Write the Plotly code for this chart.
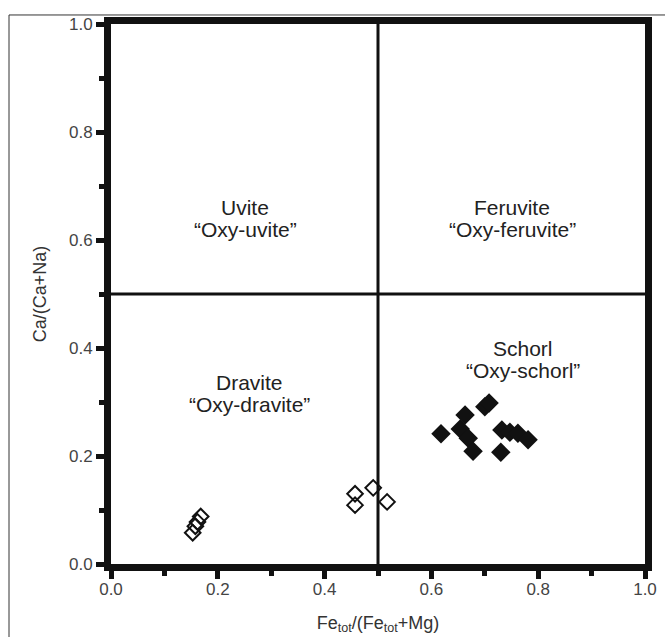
import plotly.graph_objects as go

# Tourmaline classification: Fe_tot/(Fe_tot+Mg) vs Ca/(Ca+Na)
dravite_x = [0.168, 0.162, 0.158, 0.153, 0.457, 0.457, 0.491, 0.517]
dravite_y = [0.088, 0.078, 0.070, 0.058, 0.130, 0.109, 0.141, 0.115]

schorl_x = [0.618, 0.663, 0.654, 0.669, 0.678, 0.700, 0.708, 0.730, 0.732, 0.747, 0.762, 0.781]
schorl_y = [0.241, 0.276, 0.250, 0.233, 0.209, 0.291, 0.298, 0.207, 0.248, 0.244, 0.242, 0.230]

# field names (species / oxy-species) and their label anchors
field_names = ["Uvite", "Feruvite", "Dravite", "Schorl"]
field_oxy = ["“Oxy-uvite”", "“Oxy-feruvite”", "“Oxy-dravite”", "“Oxy-schorl”"]
field_x = [0.251, 0.751, 0.260, 0.772]
field_y = [0.661, 0.661, 0.337, 0.400]
field_oxy_y = [0.619, 0.619, 0.296, 0.359]

tick_vals = [0.0, 0.2, 0.4, 0.6, 0.8, 1.0]
tick_text = ["0.0", "0.2", "0.4", "0.6", "0.8", "1.0"]
minor_vals = [0.1, 0.3, 0.5, 0.7, 0.9]

FONT = "Liberation Sans"

fig = go.Figure()
fig.add_trace(go.Scatter(
    x=dravite_x, y=dravite_y, mode="markers",
    marker=dict(symbol="diamond-open", size=12, color="#111",
                line=dict(width=2, color="#111")),
    showlegend=False, hoverinfo="skip"))
fig.add_trace(go.Scatter(
    x=schorl_x, y=schorl_y, mode="markers",
    marker=dict(symbol="diamond", size=15, color="#111",
                line=dict(width=0)),
    showlegend=False, hoverinfo="skip"))

for name, oxy, fx, fy, oy in zip(field_names, field_oxy, field_x, field_y, field_oxy_y):
    fig.add_annotation(x=fx, y=fy, text=name, showarrow=False,
                       font=dict(family=FONT, size=21, color="#222"),
                       yanchor="middle")
    fig.add_annotation(x=fx, y=oy, text=oxy, showarrow=False,
                       font=dict(family=FONT, size=21, color="#222"),
                       yanchor="middle")

# field boundaries at 0.5
fig.add_shape(type="line", x0=0.5, x1=0.5, y0=0, y1=1,
              line=dict(color="#111", width=3), layer="below")
fig.add_shape(type="line", x0=0, x1=1, y0=0.5, y1=0.5,
              line=dict(color="#111", width=3), layer="below")

# outer frame of the figure
fig.add_shape(type="rect", xref="paper", yref="paper",
              x0=-0.191, x1=1.3, y0=-0.3, y1=1.0167,
              line=dict(color="#333", width=1))

axis_common = dict(
    range=[0, 1], showgrid=False, zeroline=False, automargin=False,
    showline=True, linewidth=7, linecolor="#111", mirror=True,
    ticks="outside", ticklen=8, tickwidth=5, tickcolor="#111",
    tickvals=tick_vals, ticktext=tick_text,
    tickfont=dict(family=FONT, size=17, color="#444"),
    minor=dict(ticks="outside", ticklen=5, tickwidth=5, tickcolor="#111",
               tickvals=minor_vals),
)

fig.update_xaxes(**axis_common, ticklabelstandoff=-4,
                 title=dict(text="Fe<sub>tot</sub>/(Fe<sub>tot</sub>+Mg)",
                            font=dict(family=FONT, size=18, color="#333"),
                            standoff=20))
fig.update_yaxes(**axis_common, ticklabelstandoff=0,
                 title=dict(text="Ca/(Ca+Na)",
                            font=dict(family=FONT, size=18, color="#333"),
                            standoff=20))

fig.update_layout(
    width=665, height=637,
    margin=dict(l=111, r=20, t=24, b=73),
    paper_bgcolor="white", plot_bgcolor="white",
    font=dict(family=FONT),
)

fig.write_html("out.html")
